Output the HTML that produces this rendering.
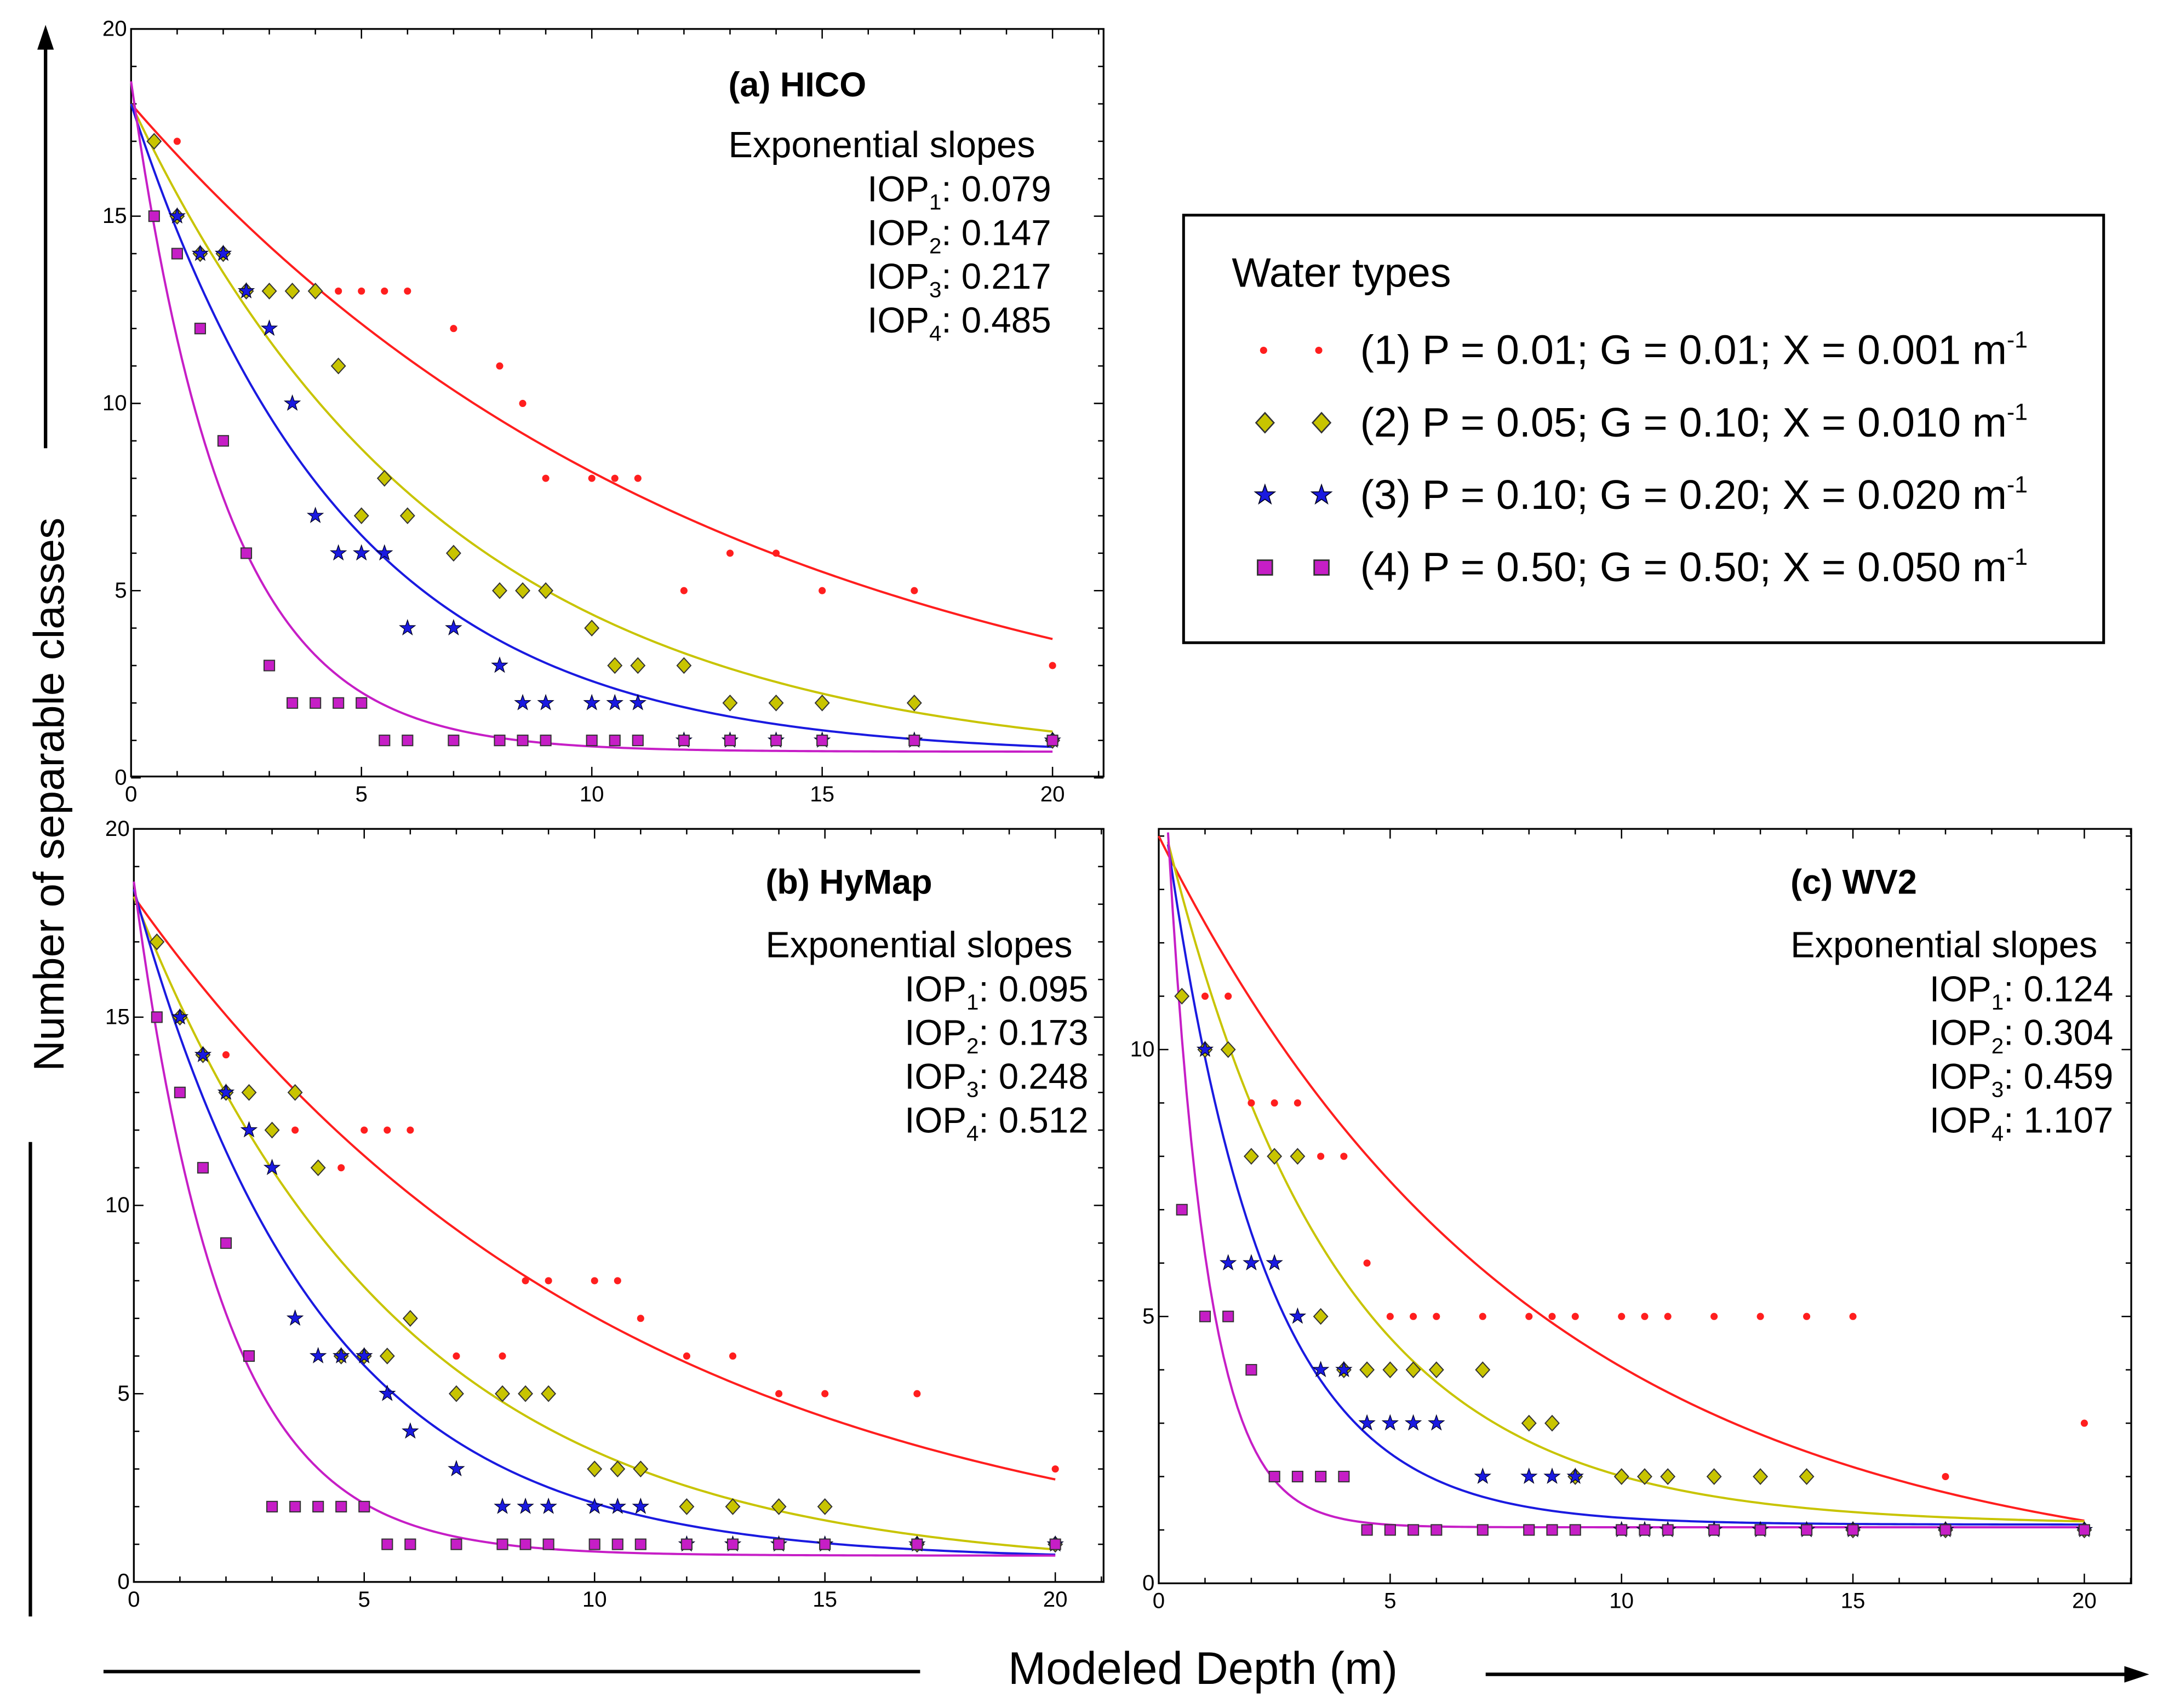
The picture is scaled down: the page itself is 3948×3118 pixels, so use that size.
<!DOCTYPE html>
<html><head><meta charset="utf-8"><style>
html,body{margin:0;padding:0;background:#fff}
svg{display:block;font-family:"Liberation Sans",sans-serif}
</style></head><body>
<svg id="fig" width="3948" height="3118" viewBox="0 0 1568 1238.4" xmlns="http://www.w3.org/2000/svg">
<rect width="1568" height="1238.4" fill="#fff"/>
<g id="root"></g>
</svg>
<script>
const depths=[0.5,1,1.5,2,2.5,3,3.5,4,4.5,5,5.5,6,7,8,8.5,9,10,10.5,11,12,13,14,15,17,20];
const a_red=[17,17,14,14,13,13,13,13,13,13,13,13,12,11,10,8,8,8,8,5,6,6,5,5,3];
const a_yel=[17,15,14,14,13,13,13,13,11,7,8,7,6,5,5,5,4,3,3,3,2,2,2,2,1];
const a_blu=[null,15,14,14,13,12,10,7,6,6,6,4,4,3,2,2,2,2,2,1,1,1,1,1,1];
const a_mag=[15,14,12,9,6,3,2,2,2,2,1,1,1,1,1,1,1,1,1,1,1,1,1,1,1];
const b_red=[17,15,14,14,13,12,12,11,11,12,12,12,6,6,8,8,8,8,7,6,6,5,5,5,3];
const b_yel=[17,15,14,13,13,12,13,11,6,6,6,7,5,5,5,5,3,3,3,2,2,2,2,1,1];
const b_blu=[null,15,14,13,12,11,7,6,6,6,5,4,3,2,2,2,2,2,2,1,1,1,1,1,1];
const b_mag=[15,13,11,9,6,2,2,2,2,2,1,1,1,1,1,1,1,1,1,1,1,1,1,1,1];
const c_red=[11,11,11,9,9,9,8,8,6,5,5,5,5,5,5,5,5,5,5,5,5,5,5,2,3];
const c_yel=[11,10,10,8,8,8,5,4,4,4,4,4,4,3,3,2,2,2,2,2,2,2,1,1,1];
const c_blu=[null,10,6,6,6,5,4,4,3,3,3,3,2,2,2,2,1,1,1,1,1,1,1,1,1];
const c_mag=[7,5,5,4,2,2,2,2,1,1,1,1,1,1,1,1,1,1,1,1,1,1,1,1,1];
// fitted curve params: start, slope, offset
const a_fit_k=[0.079,0.147,0.217,0.485], a_fit_y0=[18,18,18,18.6], a_fit_c=[0,0.3,0.6,0.7];
const b_fit_k=[0.095,0.173,0.248,0.512], b_fit_y0=[18.2,18.2,18.4,18.6], b_fit_c=[0,0.3,0.6,0.7];
const c_fit_k=[0.124,0.27,0.47,1.17], c_fit_y0=[14,14.6,15.1,17.5], c_fit_c=[0,1.1,1.1,1.05];
const a_slopes=["0.079","0.147","0.217","0.485"];
const b_slopes=["0.095","0.173","0.248","0.512"];
const c_slopes=["0.124","0.304","0.459","1.107"];
const xTicks=[0,5,10,15,20];
const abTicks=[0,5,10,15,20];
const cTicks=[0,5,10];

const NS="http://www.w3.org/2000/svg";
const root=document.getElementById('root');
function mk(tag,attrs,parent){const e=document.createElementNS(NS,tag);for(const k in attrs)e.setAttribute(k,attrs[k]);(parent||root).appendChild(e);return e;}
const colors=["#ff1e1e","#c8c400","#1a1ae0","#c61ec6"];

function panel(id,box,xr,yr,series,fk,fy0,fc,yt,title,tx,slopes){
  const g=mk('g',{});
  
  
  const [L,T,R,B]=box;
  const x0=xr[0],x1=xr[1];
  const sx=v=>x0+(x1-x0)*v/20;
  const sy=v=>yr[0]-(yr[0]-yr[1])*v/yr[2];
  const fr=mk('rect',{x:L,y:T,width:R-L,height:B-T,fill:'none',stroke:'#000','stroke-width':1.3},g);
  
  
  for(let v=0;sx(v)<=R;v++){const len=v%5==0?7:4;
    mk('line',{x1:sx(v),y1:B,x2:sx(v),y2:B-len,stroke:'#000','stroke-width':1},g);
    mk('line',{x1:sx(v),y1:T,x2:sx(v),y2:T+len,stroke:'#000','stroke-width':1},g);}
  for(let v=0;sy(v)>=T-0.5;v++){const len=v%5==0?7:4;
    mk('line',{x1:L,y1:sy(v),x2:L+len,y2:sy(v),stroke:'#000','stroke-width':1},g);
    mk('line',{x1:R,y1:sy(v),x2:R-len,y2:sy(v),stroke:'#000','stroke-width':1},g);}
  xTicks.forEach(v=>{const t=mk('text',{x:sx(v),y:B+18,'font-size':16,'text-anchor':'middle'},g);t.textContent=v;
    });
  yt.forEach(v=>{const t=mk('text',{x:L-3,y:sy(v)+5,'font-size':16,'text-anchor':'end'},g);t.textContent=v;
    });
  for(let i=0;i<4;i++){let d='';
    for(let v=0;v<=20.001;v+=0.1){let y=fc[i]+(fy0[i]-fc[i])*Math.exp(-fk[i]*v);if(sy(y)<T)continue;d+=(d?'L':'M')+sx(v).toFixed(2)+' '+sy(y).toFixed(2);}
    const p=mk('path',{d:d,fill:'none',stroke:colors[i],'stroke-width':1.6},g);
    }
  series.forEach((s,i)=>{s.forEach((v,j)=>{if(v==null)return;marker(g,i,sx(depths[j]),sy(v));});});
  const t1=mk('text',{x:tx,y:T+(id=='a'?49:47),'font-size':25,'font-weight':'bold'},g);t1.textContent=title;
  
  const t2=mk('text',{x:tx,y:T+93,'font-size':26.5},g);t2.textContent='Exponential slopes';
  
  const rx=tx+234;
  slopes.forEach((s,i)=>{const t=mk('text',{x:rx,y:T+125+i*31.7,'font-size':26,'text-anchor':'end'},g);
    t.innerHTML='IOP<tspan font-size="16" dy="6">'+(i+1)+'</tspan><tspan dy="-6">: '+s+'</tspan>';
    });
}
function marker(g,i,x,y){let e;
  if(i==0)e=mk('circle',{cx:x,cy:y,r:2.6,fill:colors[0]},g);
  else if(i==1)e=mk('path',{d:`M${x} ${y-5.5}L${x+5} ${y}L${x} ${y+5.5}L${x-5} ${y}Z`,fill:colors[1],stroke:'#333','stroke-width':0.8},g);
  else if(i==2){let d='';for(let k=0;k<10;k++){const r=k%2?2.3:5.8,a=-Math.PI/2+k*Math.PI/5;d+=(k?'L':'M')+(x+r*Math.cos(a)).toFixed(2)+' '+(y+r*Math.sin(a)).toFixed(2);}
    e=mk('path',{d:d+'Z',fill:colors[2],stroke:'#002','stroke-width':0.5},g);}
  else e=mk('rect',{x:x-3.8,y:y-3.8,width:7.6,height:7.6,fill:colors[3],stroke:'#333','stroke-width':0.8},g);
  
  
  return e;}

panel('a',[95,21,800,563],[95,763],[564,21,20],[a_red,a_yel,a_blu,a_mag],a_fit_k,a_fit_y0,a_fit_c,abTicks,'(a) HICO',528,a_slopes);
panel('b',[97,601,800,1147],[97,765],[1147,601,20],[b_red,b_yel,b_blu,b_mag],b_fit_k,b_fit_y0,b_fit_c,abTicks,'(b) HyMap',555,b_slopes);
panel('c',[840,601,1545,1148],[840,1511],[1148,761,10],[c_red,c_yel,c_blu,c_mag],c_fit_k,c_fit_y0,c_fit_c,cTicks,'(c) WV2',1298,c_slopes);

const lg=mk('g',{});


mk('rect',{x:858,y:156,width:667,height:310,fill:'#fff',stroke:'#000','stroke-width':2},lg);
const lt=mk('text',{x:893,y:208,'font-size':30},lg);lt.textContent='Water types';

const legLabels=["(1) P = 0.01; G = 0.01; X = 0.001 m","(2) P = 0.05; G = 0.10; X = 0.010 m","(3) P = 0.10; G = 0.20; X = 0.020 m","(4) P = 0.50; G = 0.50; X = 0.050 m"];
legLabels.forEach((s,i)=>{const y=254+i*52.5;
  const ge=mk('g',{},lg);
  
  
  if(i==0){marker(ge,0,916,y);marker(ge,0,956,y);}
  else{const k=i==3?1.4:1.3;
    const m1=marker(ge,i,917,y);m1.setAttribute('transform',`translate(917 ${y}) scale(${k}) translate(-917 ${-y})`);
    const m2=marker(ge,i,958,y);m2.setAttribute('transform',`translate(958 ${y}) scale(${k}) translate(-958 ${-y})`);}
  const t=mk('text',{x:986,y:y+10,'font-size':30},ge);
  t.innerHTML=s+'<tspan font-size="17" dy="-12">-1</tspan>';});

const yt=mk('text',{x:0,y:0,'font-size':31,'text-anchor':'middle',transform:'translate(46 576) rotate(-90)'});
yt.textContent='Number of separable classes';

mk('line',{x1:33,y1:325,x2:33,y2:30,stroke:'#000','stroke-width':2.5});
mk('path',{d:'M33 18L27 36L39 36Z',fill:'#000'});
mk('line',{x1:22,y1:828,x2:22,y2:1172,stroke:'#000','stroke-width':2.5});
const xt=mk('text',{x:872,y:1221,'font-size':33,'text-anchor':'middle'});
xt.textContent='Modeled Depth (m)';

mk('line',{x1:75,y1:1212,x2:667,y2:1212,stroke:'#000','stroke-width':2.5});
mk('line',{x1:1077,y1:1214,x2:1545,y2:1214,stroke:'#000','stroke-width':2.5});
mk('path',{d:'M1558 1214L1540 1208L1540 1220Z',fill:'#000'});
</script>
</body></html>
